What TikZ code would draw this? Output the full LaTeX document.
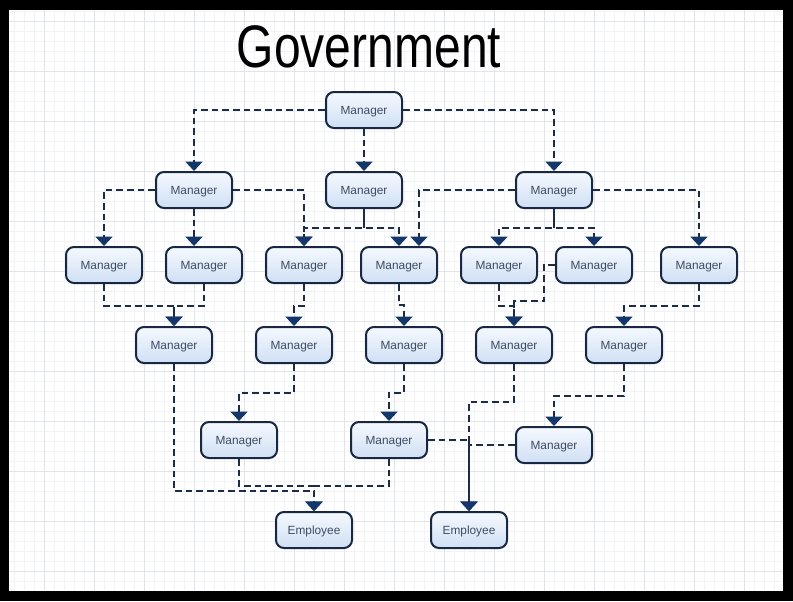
\documentclass[tikz,border=0pt]{standalone}
\usepackage{fontspec}
\setmainfont{Liberation Sans}
\usetikzlibrary{arrows.meta}
\definecolor{LinkColor}{RGB}{28,44,70}
\definecolor{TipColor}{RGB}{20,55,105}
\definecolor{BoxLine}{RGB}{24,40,66}
\definecolor{BoxTop}{RGB}{245,249,254}
\definecolor{BoxBottom}{RGB}{208,223,244}
\definecolor{BoxText}{RGB}{62,76,99}
\definecolor{GridMinor}{RGB}{241,243,246}
\definecolor{GridMajor}{RGB}{225,228,233}

\tikzset{
  post/.style={draw=BoxLine, line width=1.5pt, rounded corners=6pt,
    minimum width=57pt, minimum height=27pt, inner sep=0pt, text depth=0pt,
    top color=BoxTop, bottom color=BoxBottom, text=BoxText,
    font=\fontsize{8.9}{10}\selectfont},
  link/.style={draw=LinkColor, line width=1.8pt, dash pattern=on 5pt off 3pt,
    -{Triangle[width=12.5pt,length=7pt,color=TipColor,fill=TipColor]}},
  stub/.style={draw=LinkColor, line width=1.8pt}
}

\begin{document}
\begin{tikzpicture}[x=0.75pt,y=-0.75pt]
% frame and grid
\fill[black] (0,0) rectangle (793,601);
\fill[white] (9,10) rectangle (783,591);
\foreach \gx in {14,24,...,774}
    \draw[GridMinor,line width=0.5pt] (\gx,10) -- (\gx,591);
\foreach \gy in {11,21,...,581}
    \draw[GridMinor,line width=0.5pt] (9,\gy) -- (783,\gy);
\foreach \gx in {44,94,...,744}
    \draw[GridMajor,line width=0.5pt] (\gx,10) -- (\gx,591);
\foreach \gy in {21,71,...,571}
    \draw[GridMajor,line width=0.5pt] (9,\gy) -- (783,\gy);

\node[inner sep=0pt] (title) at (369,47)
    {\scalebox{0.8}[1]{\fontsize{45}{50}\selectfont Government}};

% boxes
\node[post] (m0) at (364,110) {Manager};

\node[post] (m1a) at (194,190) {Manager};
\node[post] (m1b) at (364,190) {Manager};
\node[post] (m1c) at (554,190) {Manager};

\node[post] (m2a) at (104,265) {Manager};
\node[post] (m2b) at (204,265) {Manager};
\node[post] (m2c) at (304,265) {Manager};
\node[post] (m2d) at (399,265) {Manager};
\node[post] (m2e) at (499,265) {Manager};
\node[post] (m2f) at (594,265) {Manager};
\node[post] (m2g) at (699,265) {Manager};

\node[post] (m3a) at (174,345) {Manager};
\node[post] (m3b) at (294,345) {Manager};
\node[post] (m3c) at (404,345) {Manager};
\node[post] (m3d) at (514,345) {Manager};
\node[post] (m3e) at (624,345) {Manager};

\node[post] (m4a) at (239,440) {Manager};
\node[post] (m4b) at (389,440) {Manager};
\node[post] (m4c) at (554,445) {Manager};

\node[post] (e1) at (314,530) {Employee};
\node[post] (e2) at (469,530) {Employee};

% links
\draw[link] (m0.west) -| (m1a.north);
\draw[link] (m0.south) -- (m1b.north);
\draw[link] (m0.east) -| (m1c.north);

\draw[link] (m1a.west) -| (m2a.north);
\draw[link] (m1a.south) -- (m1a.south |- m2b.north);
\draw[link] (m1a.east) -| (m2c.north);
\draw[stub] (m1b.south) -- ++(0,19);
\draw[link] (m1b.south) -- ++(0,19) -| (m2c.north);
\draw[link] (m1b.south) -- ++(0,19) -| (m2d.north);
\draw[link] (m1c.west) -| ([xshift=15pt]m2d.north);
\draw[stub] (m1c.south) -- ++(0,19);
\draw[link] (m1c.south) -- ++(0,19) -| (m2e.north);
\draw[link] (m1c.south) -- ++(0,19) -| (m2f.north);
\draw[link] (m1c.east) -| (m2g.north);

\draw[link] (m2a.south) -- ++(0,22) -| (m3a.north);
\draw[link] (m2b.south) -- ++(0,22) -| (m3a.north);
\draw[link] (m2c.south) -- ++(0,22) -| (m3b.north);
\draw[link] (m2d.south) -- ++(0,21) -| (m3c.north);
\draw[link] (m2e.south) -- ++(0,22) -| (m3d.north);
\draw[link] (m2f.west) -- ++(-11,0) -- ++(0,36) -| (m3d.north);
\draw[link] (m2g.south) -- ++(0,22) -| (m3e.north);

\draw[link] (m3a.south) -- ++(0,127) -| (e1.north);
\draw[link] (m3b.south) -- ++(0,29) -| (m4a.north);
\draw[link] (m3c.south) -- ++(0,29) -| (m4b.north);
\draw[link] (m3d.south) -- ++(0,38) -| (e2.north);
\draw[link] (m3e.south) -- ++(0,32) -| (m4c.north);

\draw[link] (m4a.south) -- ++(0,27) -| (e1.north);
\draw[link] (m4b.south) -- ++(0,27) -| (e1.north);
\draw[link] (m4b.east) -| (e2.north);
\draw[link] (m4c.west) -| (e2.north);
\end{tikzpicture}
\end{document}
